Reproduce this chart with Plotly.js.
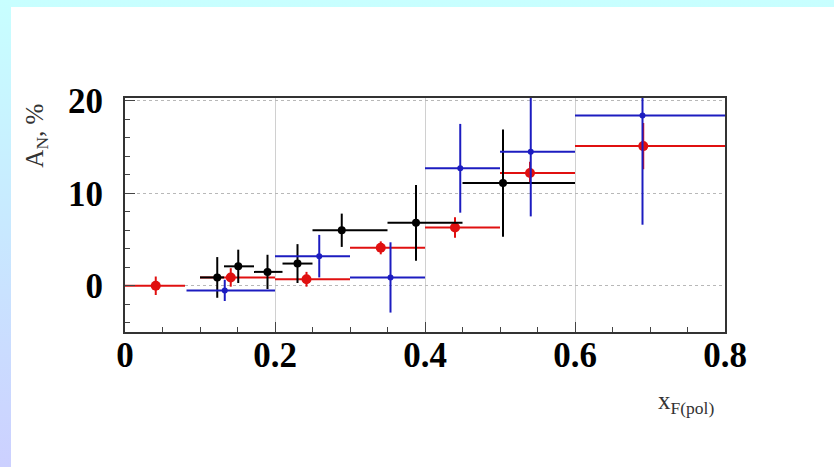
<!DOCTYPE html>
<html><head><meta charset="utf-8">
<script src="https://cdn.plot.ly/plotly-3.0.1.min.js"></script>
<style>
html,body{margin:0;padding:0;width:834px;height:467px;overflow:hidden;}
body{background:linear-gradient(to bottom,#c8ffff 0%,#c8e8ff 50%,#ccd0ff 100%);position:relative;}
#plot{position:absolute;left:11px;top:7px;width:823px;height:460px;background:#fff;}
</style></head>
<body><div id="plot"></div>
<script>
// Red series
const redX   = [0.041, 0.141, 0.242, 0.341, 0.440, 0.540, 0.691];
const redY   = [0.0, 0.9, 0.7, 4.1, 6.3, 12.2, 15.1];
const redErr = [1.0, 1.0, 0.8, 0.7, 1.1, 1.2, 2.5];
const redLo  = [0.0, 0.10, 0.20, 0.30, 0.40, 0.50, 0.60];
const redHi  = [0.08, 0.20, 0.30, 0.40, 0.50, 0.60, 0.80];
// Blue series
const blueX   = [0.133, 0.259, 0.354, 0.447, 0.541, 0.690];
const blueY   = [-0.5, 3.2, 0.9, 12.7, 14.5, 18.4];
const blueErr = [1.15, 2.3, 3.8, 4.8, 7.0, 11.8];
const blueLo  = [0.082, 0.20, 0.30, 0.40, 0.50, 0.60];
const blueHi  = [0.20, 0.30, 0.40, 0.50, 0.60, 0.80];
// Black series
const blackX   = [0.123, 0.151, 0.190, 0.230, 0.289, 0.388, 0.504];
const blackY   = [0.9, 2.1, 1.5, 2.4, 6.0, 6.8, 11.1];
const blackErr = [2.2, 1.8, 1.85, 2.1, 1.8, 4.1, 5.8];
const blackLo  = [0.10, 0.132, 0.172, 0.21, 0.25, 0.35, 0.45];
const blackHi  = [0.132, 0.172, 0.21, 0.25, 0.35, 0.45, 0.60];
// Axis ticks
const xTicks = [0, 0.2, 0.4, 0.6, 0.8];
const xTickText = ['0', '0.2', '0.4', '0.6', '0.8'];
const yTicks = [0, 10, 20];
const yTickText = ['0', '10', '20'];

function series(x, y, err, lo, hi, color, size) {
  return {
    type: 'scatter', mode: 'markers', x: x, y: y,
    marker: {color: color, size: size},
    error_y: {type: 'data', array: err, color: color, thickness: 2, width: 0},
    error_x: {type: 'data', symmetric: false,
      array: hi.map((h, i) => h - x[i]),
      arrayminus: lo.map((l, i) => x[i] - l),
      color: color, thickness: 2, width: 0},
    hoverinfo: 'x+y', showlegend: false
  };
}

const data = [
  series(redX, redY, redErr, redLo, redHi, '#e01010', 10),
  series(blackX, blackY, blackErr, blackLo, blackHi, '#000000', 8),
  series(blueX, blueY, blueErr, blueLo, blueHi, '#1c1cc0', 6)
];

const tickFont = {family: 'Liberation Serif, Times New Roman, serif', size: 35, color: '#000', weight: 'bold'};

const layout = {
  width: 823, height: 460,
  margin: {l: 114, r: 109, t: 91, b: 135},
  paper_bgcolor: '#ffffff', plot_bgcolor: '#ffffff',
  xaxis: {
    range: [0, 0.8], tickvals: xTicks, ticktext: xTickText,
    ticks: 'inside', ticklen: 10, tickwidth: 1, tickcolor: '#444',
    minor: {dtick: 0.05, ticks: 'inside', ticklen: 5, tickcolor: '#444', showgrid: false},
    showgrid: true, gridcolor: '#d0d0d0', gridwidth: 1,
    showline: true, linecolor: '#333', linewidth: 2, mirror: true,
    zeroline: false, tickfont: tickFont, ticklabelstandoff: -9
  },
  yaxis: {
    range: [-5, 20.3], tickvals: yTicks, ticktext: yTickText,
    ticks: 'inside', ticklen: 10, tickwidth: 1, tickcolor: '#444',
    minor: {dtick: 2, ticks: 'inside', ticklen: 5, tickcolor: '#444', showgrid: false},
    showgrid: true, gridcolor: '#b8b8b8', gridwidth: 1, griddash: 'dot',
    showline: true, linecolor: '#333', linewidth: 2, mirror: true,
    zeroline: false, tickfont: tickFont, ticklabelstandoff: 13
  },
  annotations: [
    {text: 'A<sub>N</sub>, %', xref: 'paper', yref: 'paper', x: -0.148, y: 0.84,
     xanchor: 'center', yanchor: 'middle', textangle: -90, showarrow: false,
     font: {family: 'Liberation Serif, Times New Roman, serif', size: 25, color: '#333'}},
    {text: 'x<sub>F(pol)</sub>', xref: 'paper', yref: 'paper', x: 0.935, y: -0.3,
     xanchor: 'center', yanchor: 'middle', showarrow: false,
     font: {family: 'Liberation Serif, Times New Roman, serif', size: 25, color: '#333'}}
  ]
};

Plotly.newPlot('plot', data, layout, {displayModeBar: false, staticPlot: true});
</script></body></html>
